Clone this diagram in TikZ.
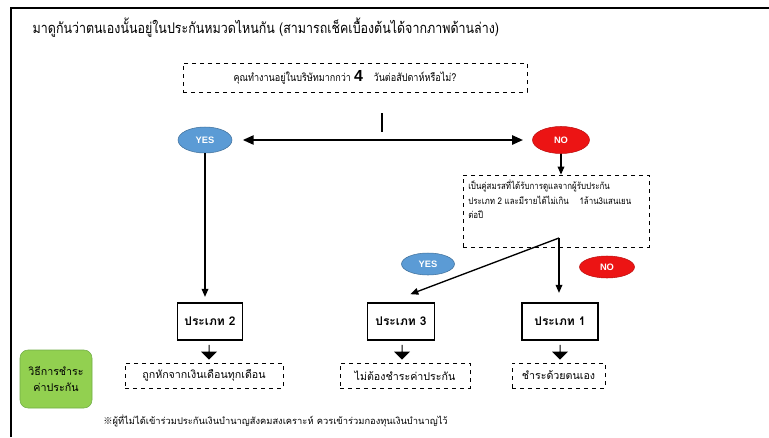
\documentclass[tikz,border=0pt]{standalone}
\usepackage{fontspec}
\usepackage{xcolor}
\usetikzlibrary{arrows.meta,shapes.geometric,shapes.arrows}
\setmainfont[Script=Thai]{Loma}
\newfontfamily\narrowthai[Script=Thai,FakeStretch=0.85]{Loma}
\newfontfamily\latinfont{Liberation Sans}
\newfontfamily\markfont{Noto Sans CJK JP}
\definecolor{yesblue}{RGB}{91,155,213}
\definecolor{yesedge}{RGB}{65,113,156}
\definecolor{nored}{RGB}{236,20,20}
\definecolor{greenbox}{RGB}{146,208,80}
\definecolor{greenedge}{RGB}{112,173,71}

\tikzset{
  px/.style={x=0.75pt,y=-0.75pt},
  dashbox/.style={draw,dashed,line width=0.6pt,inner sep=0pt},
  typebox/.style={draw,line width=1.2pt,inner sep=0pt,minimum height=27.75pt,font=\bfseries\small},
  yesnode/.style={ellipse,draw=yesedge,fill=yesblue,text=white,font=\latinfont\bfseries\scriptsize,inner sep=0pt},
  nonode/.style={ellipse,draw=nored!80!black,fill=nored,text=white,font=\latinfont\bfseries\scriptsize,inner sep=0pt},
  blockarrow/.style={single arrow,fill=black,rotate=-90,minimum height=11pt,minimum width=12pt,single arrow head extend=3pt,inner sep=0pt},
  link/.style={line width=1pt,-{Triangle[length=6pt,width=5pt]}}
}

\begin{document}
\begin{tikzpicture}[px]
\useasboundingbox (0,0) rectangle (769,437);
\draw[line width=1.2pt] (11,437) -- (11,8) -- (769,8); % frame

\node[anchor=west,font=\narrowthai\fontsize{11}{13}\selectfont] (title) at (28,28) {มาดูกันว่าตนเองนั้นอยู่ในประกันหมวดไหนกัน (สามารถเช็คเบื้องต้นได้จากภาพด้านล่าง)};

\node[dashbox,minimum width=258pt,minimum height=21.75pt] (question) at (355,77.5) {};
\node[font=\narrowthai\footnotesize] (qtext) at (345,77) {คุณทำงานอยู่ในบริษัทมากกว่า {\latinfont\bfseries\large 4}\quad วันต่อสัปดาห์หรือไม่?};

\coordinate (tickA) at (382,113);
\coordinate (tickB) at (382,132);
\draw[line width=1pt] (tickA) -- (tickB);

\node[yesnode,minimum width=40.5pt,minimum height=19.5pt] (yes1) at (205,140) {YES};
\node[nonode,minimum width=42.75pt,minimum height=20.25pt] (no1) at (561,140) {NO};
\draw[line width=1pt,{Triangle[length=8pt,width=7pt]}-{Triangle[length=8pt,width=7pt]},shorten <=8pt,shorten >=7pt] (yes1) -- (no1);

% condition box
\node[dashbox,minimum width=139.5pt,minimum height=54pt] (cond) at (556,211) {};
\node[anchor=north west,align=left,font=\narrowthai\scriptsize,inner sep=0pt] (condtext) at (468,180)
  {เป็นคู่สมรสที่ได้รับการดูแลจากผู้รับประกัน\\[2pt]ประเภท 2 และมีรายได้ไม่เกิน\hspace{8pt}1ล้าน3แสนเยน\\[2pt]ต่อปี};
\coordinate (split) at (559,238);

\node[yesnode,minimum width=39.75pt,minimum height=16.5pt] (yes2) at (428,264) {YES};
\node[nonode,minimum width=41.25pt,minimum height=16.5pt] (no2) at (607,267) {NO};

% type boxes
\node[typebox,minimum width=48.75pt] (type2) at (210,321.5) {ประเภท 2};
\node[typebox,minimum width=50.25pt] (type3) at (401,321.5) {ประเภท 3};
\node[typebox,minimum width=57pt] (type1) at (560,321.5) {ประเภท 1};

\draw[link,shorten >=4pt] (yes1) -- (yes1 |- type2.north);
\draw[link] (no1) -- (no1 |- cond.north);
\draw[link] (split) -- ([xshift=7pt,yshift=6pt]type3.north);
\draw[link,shorten >=7pt] (split) -- (split |- type1.north);

% payment
\node[blockarrow] (down2) at (209,352) {};
\node[blockarrow] (down3) at (402,352) {};
\node[blockarrow] (down1) at (560,352) {};

\node[dashbox,minimum width=118.5pt,minimum height=18.75pt,font=\footnotesize] (pay2) at (204,375.5) {ถูกหักจากเงินเดือนทุกเดือน};
\node[dashbox,minimum width=97.5pt,minimum height=18.75pt,font=\footnotesize] (pay3) at (405,375.5) {ไม่ต้องชำระค่าประกัน};
\node[dashbox,minimum width=69.75pt,minimum height=18.75pt,font=\footnotesize] (pay1) at (558.5,375.5) {ชำระด้วยตนเอง};

\node[draw=greenedge,fill=greenbox,rounded corners=6pt,minimum width=54pt,minimum height=43.5pt,align=center,font=\footnotesize] (method) at (56,379) {วิธีการชำระ\\[2pt]ค่าประกัน};

\node[anchor=west,font=\scriptsize,inner sep=0pt] (note) at (103,421) {{\markfont ※}ผู้ที่ไม่ได้เข้าร่วมประกันเงินบำนาญสังคมสงเคราะห์ ควรเข้าร่วมกองทุนเงินบำนาญไว้};
\end{tikzpicture}
\end{document}
